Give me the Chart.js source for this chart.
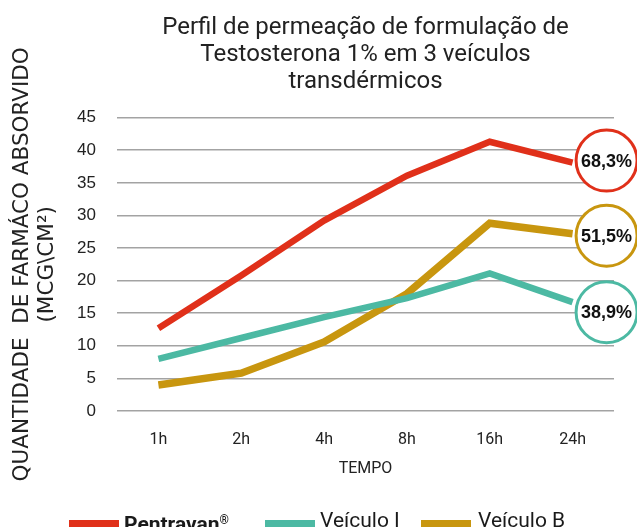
<!DOCTYPE html>
<html>
<head>
<meta charset="utf-8">
<script src="https://cdn.jsdelivr.net/npm/chart.js@4.4.1/dist/chart.umd.min.js"></script>
<style>
  html, body { margin: 0; padding: 0; background: #fff; overflow: hidden; }
  #wrap { position: relative; width: 637px; height: 527px; }
  #legend { position: absolute; left: 0; top: 0; width: 637px; height: 527px; pointer-events: none; }
  #legend .sw { position: absolute; top: 520px; width: 50px; height: 8px; }
  #legend .tx { position: absolute; top: 510px; font-family: Roboto, sans-serif; font-size: 21px; line-height: 21px; color: #1a1a1a; white-space: nowrap; }
  #legend .tx sup { font-size: 12px; vertical-align: 7px; }
</style>
</head>
<body>
<div id="wrap">
  <canvas id="chart" width="637" height="527"></canvas>
  <div id="legend"></div>
</div>
<script>
// data
const timeLabels = ['1h', '2h', '4h', '8h', '16h', '24h'];
const seriesNames = ['Pentravan®', 'Veículo I', 'Veículo B'];
const pentravan = [12.7, 20.8, 29.2, 36.1, 41.3, 38.1];
const veiculoI = [8.0, 11.2, 14.4, 17.3, 21.1, 16.7];
const veiculoB = [4.0, 5.8, 10.6, 18.0, 28.8, 27.2];
const endLabels = ['68,3%', '38,9%', '51,5%'];
const yMax = 45;
const yStep = 5;

const colors = ['#e0301a', '#4cb9a3', '#c8960f'];

// white circles with the % at the end of each line
const endBadges = {
  id: 'endBadges',
  afterDatasetsDraw(chart) {
    const ctx = chart.ctx;
    const dy = [-2, 10, 2];
    chart.data.datasets.forEach((ds, i) => {
      const meta = chart.getDatasetMeta(i);
      const last = meta.data[meta.data.length - 1];
      if (!last) return;
      const cx = last.x + 34;
      const cy = last.y + dy[i];
      ctx.save();
      ctx.beginPath();
      ctx.arc(cx, cy, 30.5, 0, Math.PI * 2);
      ctx.fillStyle = '#fff';
      ctx.fill();
      ctx.lineWidth = 3;
      ctx.strokeStyle = ds.borderColor;
      ctx.stroke();
      ctx.fillStyle = '#111';
      ctx.font = 'bold 18px "Liberation Sans", Arial, sans-serif';
      ctx.textAlign = 'center';
      ctx.textBaseline = 'middle';
      ctx.fillText(endLabels[i], cx, cy + 1);
      ctx.restore();
    });
  }
};

const chart = new Chart(document.getElementById('chart'), {
  type: 'line',
  data: {
    labels: timeLabels,
    datasets: [
      { label: seriesNames[0], data: pentravan, borderColor: colors[0], backgroundColor: colors[0], borderWidth: 6.5 },
      { label: seriesNames[1], data: veiculoI, borderColor: colors[1], backgroundColor: colors[1], borderWidth: 6.5 },
      { label: seriesNames[2], data: veiculoB, borderColor: colors[2], backgroundColor: colors[2], borderWidth: 7.5 }
    ]
  },
  options: {
    responsive: false,
    animation: false,
    elements: {
      point: { radius: 0, hoverRadius: 0 },
      line: { tension: 0, borderJoinStyle: 'miter', borderCapStyle: 'butt' }
    },
    layout: { padding: { left: 0, right: 23, top: 0, bottom: 48 } },
    plugins: {
      legend: { display: false },
      tooltip: { enabled: false },
      title: {
        display: true,
        fullSize: false,
        text: ['Perfil de permeação de formulação de', 'Testosterona 1% em 3 veículos', 'transdérmicos'],
        color: '#222',
        font: { family: 'Roboto', size: 24, weight: 'normal', lineHeight: 1.12 },
        padding: { top: 15, bottom: 22 }
      }
    },
    scales: {
      x: {
        offset: true,
        afterFit(scale) { scale.height = 68; },
        grid: { display: false, offset: true },
        border: { display: false },
        ticks: { color: '#222', font: { family: 'Roboto', size: 16 }, padding: 11, maxRotation: 0, autoSkip: false },
        title: {
          display: true,
          text: 'TEMPO',
          color: '#222',
          font: { family: 'Roboto', size: 16 },
          padding: { top: 10, bottom: 0 }
        }
      },
      y: {
        min: 0,
        max: yMax,
        afterFit(scale) { scale.width = 117; },
        grid: { color: '#a3a3a3', lineWidth: 1.5, drawTicks: false },
        border: { display: false },
        ticks: { stepSize: yStep, color: '#222', font: { family: '"Liberation Sans"', size: 17 }, padding: 21 },
        title: {
          display: true,
          text: ['QUANTIDADE  DE FARMÁCO ABSORVIDO', '(MCG\\CM²)'],
          color: '#222',
          font: { family: '"DejaVu Sans"', size: 21.5, lineHeight: 1.15 },
          padding: { top: 10, bottom: 0 }
        }
      }
    }
  },
  plugins: [endBadges]
});

// legend built from the datasets
const legend = document.getElementById('legend');
const swLeft = [69, 265, 421];
const txLeft = [124, 320, 478];
chart.data.datasets.forEach((ds, i) => {
  const sw = document.createElement('div');
  sw.className = 'sw';
  sw.style.left = swLeft[i] + 'px';
  sw.style.background = ds.borderColor;
  legend.appendChild(sw);
  const tx = document.createElement('div');
  tx.className = 'tx';
  tx.style.left = txLeft[i] + 'px';
  if (i === 0) {
    tx.style.fontWeight = 'bold';
    tx.innerHTML = ds.label.replace('®', '<sup>®</sup>');
  } else {
    tx.textContent = ds.label;
  }
  legend.appendChild(tx);
});
</script>
</body>
</html>
